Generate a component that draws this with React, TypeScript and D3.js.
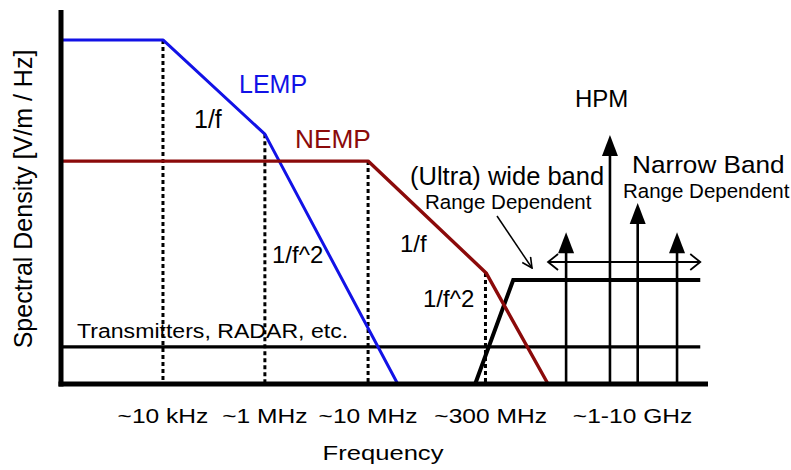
import React from "react";
import * as d3 from "d3";

// ---- data (schematic units: x 0..100 along frequency axis, y 0..100 along spectral density) ----
const lempX = [0, 15.5, 31.3, 51.9];
const lempY = [92, 92, 66.8, 0];
const nempX = [0, 47.3, 65.6, 75.2];
const nempY = [59.6, 59.6, 29.7, 0];
const cornerX = [15.5, 31.3, 47.3, 65.5];
const cornerY = [92, 66.8, 59.6, 29.7];
const transmittersX = [0, 98.8];
const transmittersY = [9.9, 9.9];
const uwbX = [63.9, 69.8, 98.8];
const uwbY = [0, 27.8, 27.8];
const rangeX = [75.2, 98.8];
const rangeY = [32.6, 32.6];
const hpmX = [78.0, 84.8, 89.1, 95.2];
const hpmY = [40.6, 66.6, 48.4, 40.6];
const tickLabels = ["~10 kHz", "~1 MHz", "~10 MHz", "~300 MHz", "~1-10 GHz"];
const tickPos = [15.5, 31.3, 47.3, 66.3, 88.3];

const W = 791;
const H = 470;
const FONT = "'Liberation Sans', Arial, Helvetica, sans-serif";
const BLUE = "#1212e6";
const DARKRED = "#8b0a0a";

const x = d3.scaleLinear().domain([0, 100]).range([63, 708]);
const y = d3.scaleLinear().domain([0, 100]).range([384, 10]);

const line = d3
  .line<[number, number]>()
  .x((d) => x(d[0]))
  .y((d) => y(d[1]));

const zip = (a: number[], b: number[]): [number, number][] => a.map((v, i) => [v, b[i]]);

function T({
  px,
  py,
  fs,
  sx = 1,
  anchor = "start",
  fill = "#000",
  rotate = 0,
  children,
}: {
  px: number;
  py: number;
  fs: number;
  sx?: number;
  anchor?: string;
  fill?: string;
  rotate?: number;
  children: React.ReactNode;
}) {
  return (
    <text
      transform={`translate(${px},${py}) rotate(${rotate}) scale(${sx},1)`}
      fontSize={fs}
      textAnchor={anchor as any}
      fill={fill}
      fontFamily={FONT}
    >
      {children}
    </text>
  );
}

export default function App() {
  const baseY = y(0);
  return (
    <svg
      width={W}
      height={H}
      viewBox={`0 0 ${W} ${H}`}
      style={{ position: "absolute", left: 0, top: 0, background: "#fff" }}
    >
      <defs>
        <marker id="openHead" viewBox="0 0 12 12" refX="11" refY="6" markerWidth="12" markerHeight="12" markerUnits="userSpaceOnUse" orient="auto-start-reverse">
          <path d="M1,1 L11,6 L1,11" fill="none" stroke="#000" strokeWidth={1.6} />
        </marker>
        <marker id="openHead2" viewBox="0 0 20 20" refX="18" refY="10" markerWidth="20" markerHeight="20" markerUnits="userSpaceOnUse" orient="auto-start-reverse">
          <path d="M8,2 L18,10 L8,18" fill="none" stroke="#000" strokeWidth={1.8} />
        </marker>
      </defs>

      {/* dotted corner lines */}
      {cornerX.map((cx, i) => (
        <line
          key={"c" + i}
          x1={x(cx)}
          x2={x(cx)}
          y1={y(cornerY[i])}
          y2={baseY}
          stroke="#000"
          strokeWidth={3}
          strokeDasharray="4 3"
        />
      ))}

      {/* transmitters line */}
      <path d={line(zip(transmittersX, transmittersY)) || ""} fill="none" stroke="#000" strokeWidth={3.2} />

      {/* HPM vertical arrows */}
      {hpmX.map((hx, i) => (
        <g key={"h" + i}>
          <line x1={x(hx)} x2={x(hx)} y1={baseY} y2={y(hpmY[i]) + 18} stroke="#000" strokeWidth={2.6} />
          <path
            d={`M${x(hx)},${y(hpmY[i])} L${x(hx) + 8},${y(hpmY[i]) + 21} L${x(hx) - 8},${y(hpmY[i]) + 21} Z`}
            fill="#000"
          />
        </g>
      ))}

      {/* range double arrow */}
      <path
        d={line(zip(rangeX, rangeY)) || ""}
        fill="none"
        stroke="#000"
        strokeWidth={2}
        markerStart="url(#openHead2)"
        markerEnd="url(#openHead2)"
      />

      {/* UWB trapezoid */}
      <path d={line(zip(uwbX, uwbY)) || ""} fill="none" stroke="#000" strokeWidth={4} strokeLinejoin="miter" />

      {/* LEMP */}
      <path d={line(zip(lempX, lempY)) || ""} fill="none" stroke={BLUE} strokeWidth={3} strokeLinejoin="round" />
      {/* NEMP */}
      <path d={line(zip(nempX, nempY)) || ""} fill="none" stroke={DARKRED} strokeWidth={3.4} strokeLinejoin="round" />

      {/* annotation arrow */}
      <line x1={497} y1={216} x2={532} y2={268} stroke="#000" strokeWidth={1.5} markerEnd="url(#openHead)" />

      {/* axes */}
      <line x1={x(0) - 2} x2={x(0) - 2} y1={y(100)} y2={baseY + 2.5} stroke="#000" strokeWidth={5} />
      <line x1={x(0) - 4.5} x2={x(100)} y1={baseY} y2={baseY} stroke="#000" strokeWidth={5} />

      {/* tick labels */}
      {tickLabels.map((t, i) => (
        <T key={t} px={x(tickPos[i])} py={423} fs={21} sx={1.17} anchor="middle">
          {t}
        </T>
      ))}
      <T px={383} py={460} fs={21} sx={1.22} anchor="middle">
        Frequency
      </T>
      <T px={32} py={199} fs={25} rotate={-90} anchor="middle">
        Spectral Density [V/m / Hz]
      </T>

      {/* annotations */}
      <T px={239} py={93} fs={25} fill={BLUE}>LEMP</T>
      <T px={194} py={128} fs={25}>1/f</T>
      <T px={295} py={148} fs={25} sx={1.05} fill={DARKRED}>NEMP</T>
      <T px={272} py={263} fs={24}>1/f^2</T>
      <T px={77} py={338} fs={21} sx={1.1}>Transmitters, RADAR, etc.</T>
      <T px={400} py={252} fs={24}>1/f</T>
      <T px={423} py={307} fs={24}>1/f^2</T>
      <T px={410} py={185} fs={25} sx={1.02}>(Ultra) wide band</T>
      <T px={425} py={209} fs={20.5}>Range Dependent</T>
      <T px={575} py={107} fs={24}>HPM</T>
      <T px={632} py={173} fs={24} sx={1.09}>Narrow Band</T>
      <T px={623} py={198} fs={20.5}>Range Dependent</T>
    </svg>
  );
}
